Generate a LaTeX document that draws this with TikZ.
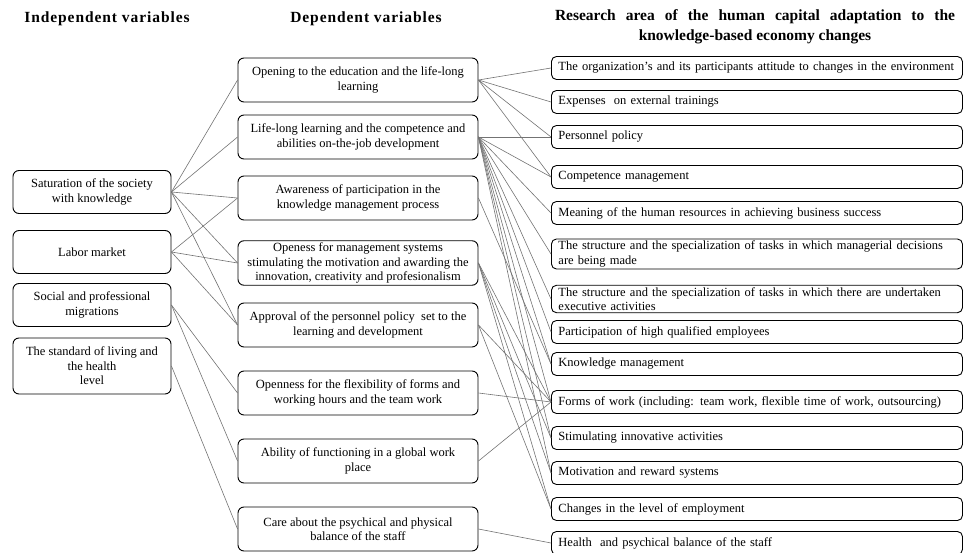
\documentclass[tikz,border=0pt]{standalone}
\usepackage{fontspec}
\setmainfont{Liberation Serif}
\usepackage{tikz}
\usetikzlibrary{positioning}
\newcommand{\boxfont}{\fontsize{12.5}{14.5}\selectfont}
\newcommand{\headingfont}{\fontsize{15.5}{20}\selectfont\bfseries}

\begin{document}
\begin{tikzpicture}[x=1pt, y=-1pt,
    leftbox/.style={rectangle, rounded corners=6pt, draw, line width=0.9pt, minimum width=158pt, minimum height=43pt, inner ysep=3pt, align=center, font=\boxfont},
    midbox/.style={rectangle, rounded corners=6pt, draw, line width=0.9pt, minimum width=240pt, minimum height=44pt, inner ysep=2pt, align=center, font=\boxfont},
    rightbox/.style={rectangle, rounded corners=5pt, draw, line width=0.9pt, anchor=west, text width=397pt, inner xsep=7pt, minimum height=23pt, inner ysep=2pt, align=left, font=\boxfont},
    link/.style={draw=black!55, line width=0.6pt},
    head/.style={font=\headingfont, align=center}
]
\useasboundingbox (0,0) rectangle (966,553);

% Column titles
\node[head] (indep) at (107,19) {\addfontfeature{LetterSpace=6}Independent variables};
\node[head] (dep) at (366,19) {\addfontfeature{LetterSpace=6}Dependent variables};
\node[head] (area) at (755,27) {\makebox[400pt][s]{Research area of the human capital adaptation to the}\\knowledge-based economy changes};

% Independent variables
\node[leftbox] (sat) at (92,192) {Saturation of the society\\with knowledge};
\node[leftbox] (labor) at (92,252) {Labor market};
\node[leftbox] (migr) at (92,305) {Social and professional\\migrations};
\node[leftbox, minimum height=56pt] (living) at (92,366) {The standard of living and\\the health\\level};

% Dependent variables
\node[midbox] (open) at (358,80) {Opening to the education and the life-long\\learning};
\node[midbox] (lifelong) at (358,137) {Life-long learning and the competence and\\abilities on-the-job development};
\node[midbox] (aware) at (358,198) {Awareness of participation in the\\knowledge management process};
\node[midbox] (mgmt) at (358,263) {Openess for management systems\\stimulating the motivation and awarding the\\innovation, creativity and profesionalism};
\node[midbox] (approval) at (358,325) {Approval of the personnel policy\ \ set to the\\learning and development};
\node[midbox] (flex) at (358,393) {Openness for the flexibility of forms and\\working hours and the team work};
\node[midbox] (global) at (358,461) {Ability of functioning in a global work\\place};
\node[midbox] (care) at (358,529) {Care about the psychical and physical\\balance of the staff};

% Research area
\node[rightbox] (attitude) at (551,68) {The organization’s and its participants attitude to changes in the environment};
\node[rightbox] (expenses) at (551,102) {Expenses\ \ on external trainings};
\node[rightbox] (perspol) at (551,137) {Personnel policy};
\node[rightbox] (compet) at (551,177) {Competence management};
\node[rightbox] (meaning) at (551,213) {Meaning of the human resources in achieving business success};
\node[rightbox] (structmgr) at (551,254) {The structure and the specialization of tasks in which managerial decisions\\are being made};
\node[rightbox] (structexe) at (551,299) {The structure and the specialization of tasks in which there are undertaken\\executive activities};
\node[rightbox] (particip) at (551,332) {Participation of high qualified employees};
\node[rightbox] (knowmgmt) at (551,364) {Knowledge management};
\node[rightbox] (forms) at (551,402) {Forms of work (including: team work, flexible time of work, outsourcing)};
\node[rightbox] (innov) at (551,438) {Stimulating innovative activities};
\node[rightbox] (motiv) at (551,473) {Motivation and reward systems};
\node[rightbox] (employ) at (551,509) {Changes in the level of employment};
\node[rightbox] (health) at (551,543) {Health\ \ and psychical balance of the staff};

% Independent -> dependent
\draw[link] (sat.east) -- (open.west);
\draw[link] (sat.east) -- (lifelong.west);
\draw[link] (sat.east) -- (aware.west);
\draw[link] (sat.east) -- (mgmt.west);
\draw[link] (sat.east) -- (approval.west);
\draw[link] (labor.east) -- (aware.west);
\draw[link] (labor.east) -- (mgmt.west);
\draw[link] (labor.east) -- (approval.west);
\draw[link] (migr.east) -- (flex.west);
\draw[link] (migr.east) -- (global.west);
\draw[link] (living.east) -- (care.west);

% Dependent -> research area
\draw[link] (open.east) -- (attitude.west);
\draw[link] (open.east) -- (expenses.west);
\draw[link] (open.east) -- (perspol.west);
\draw[link] (open.east) -- (compet.west);
\draw[link] (lifelong.east) -- (perspol.west);
\draw[link] (lifelong.east) -- (compet.west);
\draw[link] (lifelong.east) -- (meaning.west);
\draw[link] (lifelong.east) -- (structmgr.west);
\draw[link] (lifelong.east) -- (structexe.west);
\draw[link] (lifelong.east) -- (particip.west);
\draw[link] (lifelong.east) -- (knowmgmt.west);
\draw[link] (lifelong.east) -- (forms.west);
\draw[link] (lifelong.east) -- (innov.west);
\draw[link] (lifelong.east) -- (motiv.west);
\draw[link] (aware.east) -- (knowmgmt.west);
\draw[link] (mgmt.east) -- (forms.west);
\draw[link] (mgmt.east) -- (innov.west);
\draw[link] (mgmt.east) -- (motiv.west);
\draw[link] (mgmt.east) -- (employ.west);
\draw[link] (approval.east) -- (forms.west);
\draw[link] (approval.east) -- (employ.west);
\draw[link] (flex.east) -- (forms.west);
\draw[link] (global.east) -- (forms.west);
\draw[link] (care.east) -- (health.west);
\end{tikzpicture}
\end{document}
